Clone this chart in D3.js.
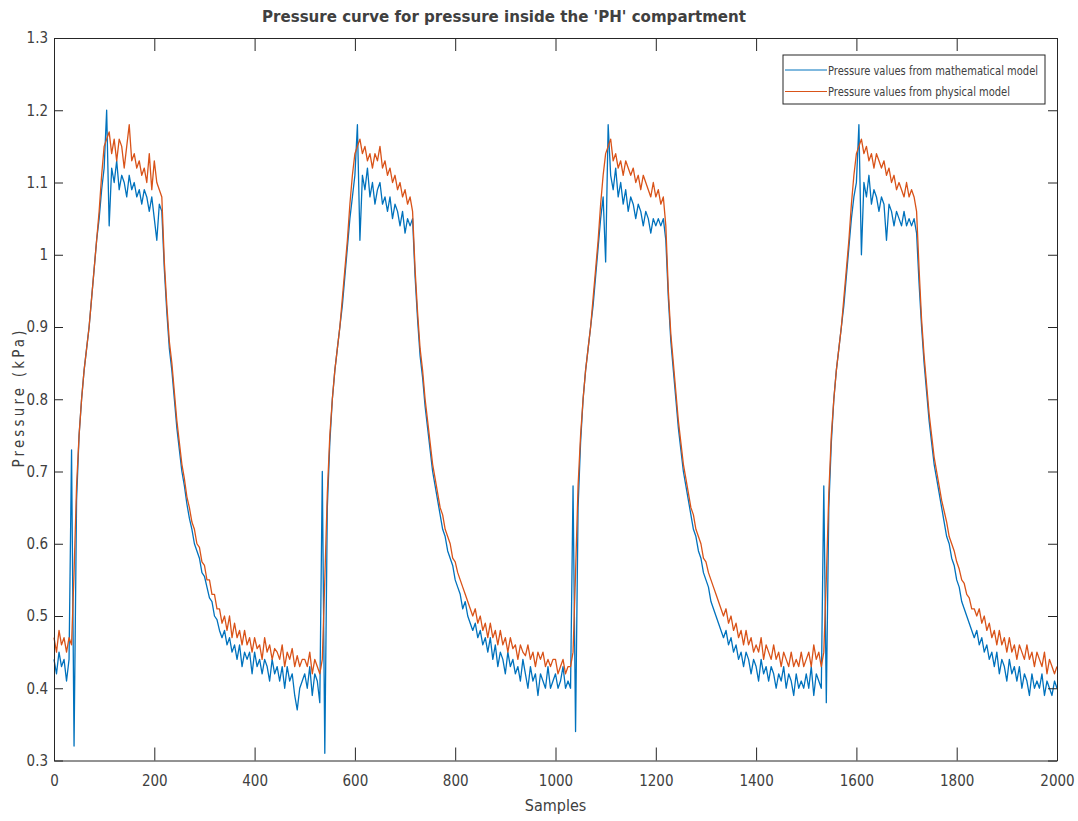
<!DOCTYPE html>
<html>
<head>
<meta charset="utf-8">
<script src="https://cdn.jsdelivr.net/npm/d3@7"></script>
<style>
  html, body { margin: 0; padding: 0; background: #fff; }
  svg { display: block; }
  .lbl { font-family: "Liberation Sans Narrow", "DejaVu Sans Condensed", "Arial Narrow", sans-serif; fill: #404040; }
</style>
</head>
<body>
<div id="chart"></div>
<script>
/* Pressure curve for the 'PH' compartment
 * values every 5 samples, one array per cycle */

const sampleStep = 5;
const cycleStarts = [0, 500, 1000, 1500];

// mathematical model (blue)
const math1 = [
  .44,.42,.45,.43,.44,.41,.44,.73,.32,.66,
  .75,.80,.84,.87,.90,.94,.98,1.02,1.05,1.09,
  1.12,1.20,1.04,1.12,1.10,1.13,1.09,1.11,1.10,1.08,
  1.11,1.09,1.10,1.08,1.09,1.07,1.09,1.08,1.06,1.08,
  1.05,1.02,1.07,1.06,.98,.92,.87,.84,.80,.76,
  .73,.70,.68,.655,.635,.62,.60,.59,.58,.56,
  .555,.54,.525,.52,.50,.495,.48,.47,.48,.46,
  .47,.45,.46,.44,.46,.43,.45,.44,.45,.42,
  .45,.43,.44,.42,.44,.43,.41,.44,.42,.43,
  .41,.43,.40,.43,.41,.42,.39,.37,.40,.41
];
const math2 = [
  .42,.40,.43,.39,.42,.41,.38,.70,.31,.65,
  .74,.80,.84,.87,.90,.93,.97,1.01,1.05,1.08,
  1.11,1.18,1.02,1.11,1.09,1.12,1.08,1.10,1.07,1.09,
  1.10,1.07,1.08,1.06,1.08,1.05,1.07,1.06,1.04,1.06,
  1.03,1.05,1.04,1.05,.97,.91,.86,.83,.79,.76,
  .73,.70,.68,.66,.64,.62,.61,.59,.58,.57,
  .55,.54,.53,.51,.52,.50,.49,.48,.49,.47,
  .48,.46,.47,.45,.47,.44,.46,.43,.45,.44,
  .42,.45,.43,.44,.42,.43,.41,.44,.42,.40,
  .43,.41,.42,.39,.42,.41,.40,.43,.40,.41
];
const math3 = [
  .42,.40,.41,.43,.40,.41,.40,.68,.34,.65,
  .74,.80,.84,.87,.90,.93,.97,1.01,1.05,1.08,
  .99,1.18,1.11,1.09,1.12,1.08,1.10,1.07,1.09,1.06,
  1.08,1.07,1.05,1.07,1.06,1.04,1.06,1.05,1.03,1.05,
  1.04,1.05,1.04,1.05,1.02,.94,.88,.84,.80,.76,
  .73,.70,.68,.66,.64,.62,.61,.59,.58,.56,
  .55,.54,.52,.51,.50,.49,.48,.47,.48,.46,
  .47,.45,.46,.44,.45,.43,.45,.44,.42,.44,
  .43,.41,.44,.42,.43,.41,.43,.42,.40,.42,
  .41,.43,.40,.42,.41,.39,.42,.40,.41,.40
];
const math4 = [
  .42,.40,.43,.39,.42,.41,.40,.68,.38,.65,
  .74,.80,.84,.87,.90,.93,.97,1.01,1.05,1.08,
  1.10,1.18,1.00,1.10,1.08,1.11,1.07,1.09,1.08,1.06,
  1.08,1.07,1.02,1.07,1.06,1.04,1.06,1.05,1.04,1.06,
  1.04,1.05,1.04,1.05,1.03,.96,.90,.85,.81,.77,
  .74,.71,.69,.67,.65,.63,.61,.60,.58,.57,
  .55,.54,.52,.51,.50,.49,.48,.47,.48,.46,
  .47,.45,.46,.44,.45,.43,.45,.42,.44,.43,
  .41,.44,.42,.43,.41,.43,.40,.42,.41,.39,
  .42,.40,.41,.40,.42,.39,.41,.40,.39,.41
];
const mathLast = 0.40; // sample 2000

// physical model (orange)
const phys1 = [
  .47,.45,.48,.46,.47,.45,.47,.46,.56,.68,
  .75,.80,.84,.87,.90,.94,.98,1.02,1.06,1.11,
  1.15,1.16,1.17,1.14,1.16,1.13,1.16,1.15,1.12,1.15,
  1.18,1.13,1.14,1.12,1.13,1.11,1.12,1.10,1.14,1.09,
  1.13,1.10,1.09,1.08,.99,.93,.88,.85,.81,.77,
  .74,.71,.69,.665,.65,.63,.62,.60,.595,.575,
  .57,.55,.55,.53,.53,.51,.51,.49,.50,.48,
  .50,.47,.49,.47,.48,.46,.48,.46,.47,.45,
  .47,.455,.46,.44,.47,.45,.46,.44,.455,.45,
  .44,.46,.43,.45,.44,.455,.43,.445,.43,.44
];
const phys2 = [
  .44,.43,.45,.42,.44,.43,.42,.44,.55,.67,
  .75,.80,.84,.87,.90,.94,.98,1.02,1.07,1.11,
  1.14,1.15,1.16,1.14,1.15,1.13,1.14,1.12,1.14,1.13,
  1.15,1.12,1.13,1.11,1.12,1.10,1.11,1.09,1.10,1.08,
  1.09,1.07,1.08,1.06,.98,.92,.87,.84,.80,.77,
  .74,.71,.69,.67,.65,.64,.62,.61,.60,.58,
  .575,.56,.55,.54,.53,.52,.51,.50,.51,.49,
  .50,.48,.49,.47,.49,.47,.48,.46,.48,.46,
  .47,.45,.47,.455,.46,.44,.46,.45,.445,.46,
  .44,.45,.43,.45,.44,.45,.43,.44,.43,.44
];
const phys3 = [
  .44,.42,.43,.44,.42,.43,.43,.45,.56,.68,
  .75,.80,.84,.87,.90,.94,.98,1.02,1.07,1.11,
  1.14,1.15,1.16,1.13,1.14,1.12,1.13,1.11,1.13,1.12,
  1.11,1.12,1.10,1.11,1.09,1.11,1.10,1.09,1.08,1.10,
  1.08,1.09,1.07,1.08,1.04,.95,.89,.85,.81,.77,
  .74,.71,.69,.67,.65,.64,.62,.61,.60,.58,
  .575,.56,.55,.54,.53,.52,.51,.50,.51,.49,
  .50,.48,.49,.47,.48,.46,.48,.46,.47,.45,
  .46,.45,.47,.44,.46,.45,.44,.46,.44,.45,
  .43,.45,.44,.43,.45,.43,.44,.43,.45,.43
];
const phys4 = [
  .44,.45,.43,.46,.44,.45,.43,.45,.55,.67,
  .75,.80,.84,.87,.90,.94,.98,1.02,1.07,1.11,
  1.14,1.15,1.16,1.14,1.15,1.13,1.14,1.12,1.14,1.13,
  1.12,1.13,1.11,1.12,1.10,1.11,1.09,1.10,1.09,1.08,
  1.10,1.08,1.09,1.08,1.06,.98,.91,.86,.82,.78,
  .75,.72,.70,.68,.66,.645,.63,.61,.60,.59,
  .575,.565,.55,.545,.53,.525,.51,.51,.50,.51,
  .49,.50,.48,.49,.47,.48,.46,.48,.46,.47,
  .45,.47,.45,.46,.44,.46,.45,.44,.46,.44,
  .45,.43,.45,.44,.43,.45,.42,.44,.43,.42
];
const physLast = 0.43;

const xTicks = [0, 200, 400, 600, 800, 1000, 1200, 1400, 1600, 1800, 2000];
const yTicks = [0.3, 0.4, 0.5, 0.6, 0.7, 0.8, 0.9, 1, 1.1, 1.2, 1.3];
const seriesNames = ['Pressure values from mathematical model', 'Pressure values from physical model'];
const seriesColors = ['#0072BD', '#D95319'];

// ---- layout
const W = 1078, H = 821;
const box = { left: 54, right: 1057, top: 38, bottom: 760.5 };
const axisColor = '#262626';

const svg = d3.select('#chart').append('svg')
  .attr('width', W).attr('height', H);

svg.append('rect').attr('width', W).attr('height', H).attr('fill', '#fff');

const x = d3.scaleLinear().domain([0, 2000]).range([box.left, box.right]);
const y = d3.scaleLinear().domain([0.3, 1.3]).range([box.bottom, box.top]);

// series from the per-cycle arrays
function buildSeries(cycles, last) {
  const pts = [];
  cycles.forEach((vals, c) => {
    vals.forEach((v, i) => pts.push({ s: cycleStarts[c] + i * sampleStep, v }));
  });
  pts.push({ s: 2000, v: last });
  return pts;
}
const mathSeries = buildSeries([math1, math2, math3, math4], mathLast);
const physSeries = buildSeries([phys1, phys2, phys3, phys4], physLast);

const line = d3.line().x(d => x(d.s)).y(d => y(d.v));

// blue first, orange on top (plot order)
const plot = svg.append('g');
plot.append('path').datum(mathSeries)
  .attr('d', line).attr('fill', 'none')
  .attr('stroke', seriesColors[0]).attr('stroke-width', 1.3).attr('stroke-linejoin', 'round');
plot.append('path').datum(physSeries)
  .attr('d', line).attr('fill', 'none')
  .attr('stroke', seriesColors[1]).attr('stroke-width', 1.3).attr('stroke-linejoin', 'round');

// axes (MATLAB-style box, ticks inward)
const fmt = d => String(d);
const styleAxis = g => {
  g.select('.domain').attr('stroke', axisColor);
  g.selectAll('.tick line').attr('stroke', axisColor);
  g.selectAll('.tick text').attr('class', 'lbl').attr('font-size', 15).attr('fill', '#404040');
};

svg.append('g').attr('transform', `translate(0,${box.bottom})`)
  .call(d3.axisBottom(x).tickValues(xTicks).tickFormat(fmt).tickSizeInner(-13).tickSizeOuter(0).tickPadding(15))
  .call(styleAxis);
svg.append('g').attr('transform', `translate(0,${box.top})`)
  .call(d3.axisTop(x).tickValues(xTicks).tickFormat('').tickSizeInner(-13).tickSizeOuter(0))
  .call(styleAxis);
svg.append('g').attr('transform', `translate(${box.left},0)`)
  .call(d3.axisLeft(y).tickValues(yTicks).tickFormat(fmt).tickSizeInner(-9).tickSizeOuter(0).tickPadding(6))
  .call(styleAxis);
svg.append('g').attr('transform', `translate(${box.right},0)`)
  .call(d3.axisRight(y).tickValues(yTicks).tickFormat('').tickSizeInner(-9).tickSizeOuter(0))
  .call(styleAxis);

// title + axis labels
svg.append('text').attr('class', 'lbl')
  .attr('x', 262).attr('y', 22)
  .attr('font-size', 15).attr('font-weight', 'bold').attr('fill', '#222')
  .attr('textLength', 484).attr('lengthAdjust', 'spacingAndGlyphs')
  .text("Pressure curve for pressure inside the 'PH' compartment");

svg.append('text').attr('class', 'lbl')
  .attr('x', (box.left + box.right) / 2).attr('y', 811)
  .attr('text-anchor', 'middle').attr('font-size', 16)
  .text('Samples');

svg.append('text').attr('class', 'lbl')
  .attr('transform', `translate(24,${399}) rotate(-90)`)
  .attr('text-anchor', 'middle').attr('font-size', 15)
  .attr('textLength', 137).attr('lengthAdjust', 'spacing')
  .text('Pressure (kPa)');

// legend
const legend = svg.append('g').attr('transform', 'translate(783,55)');
legend.append('rect')
  .attr('width', 262).attr('height', 49)
  .attr('fill', '#fff').attr('stroke', axisColor).attr('stroke-width', 1);

const rows = legend.selectAll('g.row').data(seriesNames).join('g')
  .attr('class', 'row')
  .attr('transform', (d, i) => `translate(0,${15 + i * 21.5})`);
rows.append('line')
  .attr('x1', 2).attr('x2', 44)
  .attr('stroke', (d, i) => seriesColors[i]).attr('stroke-width', 1);
rows.append('text').attr('class', 'lbl')
  .attr('x', 45).attr('dy', '0.35em')
  .attr('font-size', 13).attr('fill', '#333')
  .attr('textLength', (d, i) => i === 0 ? 210 : 182)
  .attr('lengthAdjust', 'spacingAndGlyphs')
  .text(d => d);
</script>
</body>
</html>
